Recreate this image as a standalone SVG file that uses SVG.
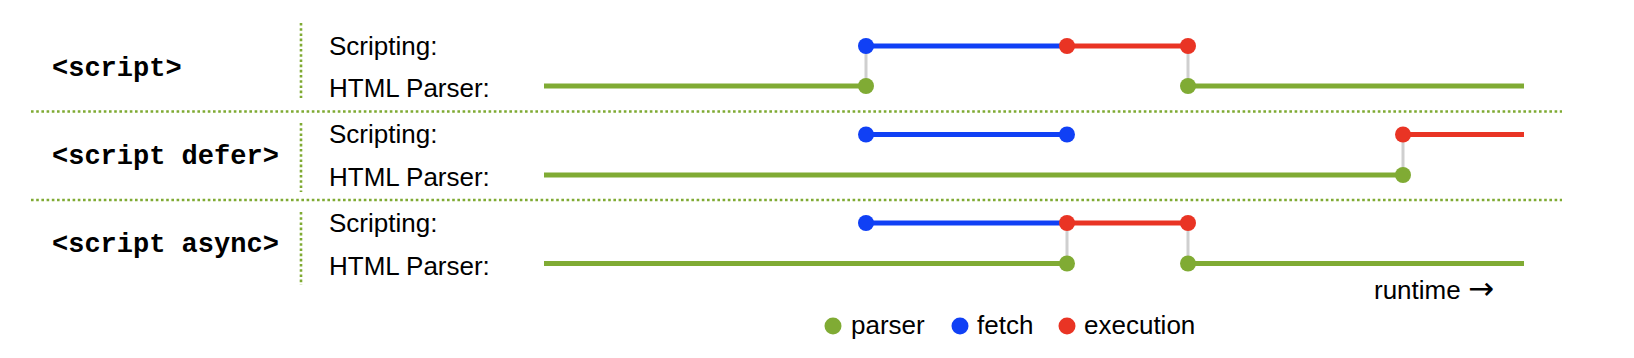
<svg xmlns="http://www.w3.org/2000/svg" width="1634" height="358" viewBox="0 0 1634 358">
<style>
.lbl{font-family:"Liberation Mono","Courier New",monospace;font-weight:bold;font-size:27px;fill:#000}
.t{font-family:"Liberation Sans",Arial,sans-serif;font-size:26px;fill:#000}
.ar{font-family:"DejaVu Sans",sans-serif;font-size:31px}
.dot{stroke:#7FAA33;stroke-width:2.6;stroke-dasharray:2.6 2.6;fill:none}
.p{stroke:#80AB34;stroke-width:5;fill:none}
.f{stroke:#1040F5;stroke-width:5;fill:none}
.e{stroke:#E93424;stroke-width:5;fill:none}
.g{stroke:#CFCFCF;stroke-width:3;fill:none}
.cp{fill:#80AB34}.cf{fill:#1040F5}.ce{fill:#E93424}
</style>
<rect width="1634" height="358" fill="#fff"/>
<g id="separators">
<line class="dot" x1="31" y1="111.5" x2="1562" y2="111.5"/>
<line class="dot" x1="31" y1="200" x2="1562" y2="200"/>
<line class="dot" x1="301" y1="23" x2="301" y2="98"/>
<line class="dot" x1="301" y1="123" x2="301" y2="192"/>
<line class="dot" x1="301" y1="212" x2="301" y2="285"/>
</g>
<g id="row-script">
<text class="lbl" x="52" y="76">&lt;script&gt;</text>
<text class="t" x="329" y="55">Scripting:</text>
<text class="t" x="329" y="97">HTML Parser:</text>
</g>
<g id="row-defer">
<text class="lbl" x="52" y="164">&lt;script defer&gt;</text>
<text class="t" x="329" y="143">Scripting:</text>
<text class="t" x="329" y="185.5">HTML Parser:</text>
</g>
<g id="row-async">
<text class="lbl" x="52" y="252">&lt;script async&gt;</text>
<text class="t" x="329" y="232">Scripting:</text>
<text class="t" x="329" y="274.5">HTML Parser:</text>
</g>
<g id="connectors">
<line class="g" x1="866" y1="46" x2="866" y2="86"/>
<line class="g" x1="1188" y1="46" x2="1188" y2="86"/>
<line class="g" x1="1403" y1="134.5" x2="1403" y2="175"/>
<line class="g" x1="1067" y1="223" x2="1067" y2="263.5"/>
<line class="g" x1="1188" y1="223" x2="1188" y2="263.5"/>
<line class="p" x1="544" y1="86" x2="866" y2="86"/>
<line class="p" x1="1188" y1="86" x2="1524" y2="86"/>
<line class="f" x1="866" y1="46" x2="1067" y2="46"/>
<line class="e" x1="1067" y1="46" x2="1188" y2="46"/>
<line class="p" x1="544" y1="175" x2="1403" y2="175"/>
<line class="f" x1="866" y1="134.5" x2="1067" y2="134.5"/>
<line class="e" x1="1403" y1="134.5" x2="1524" y2="134.5"/>
<line class="p" x1="544" y1="263.5" x2="1067" y2="263.5"/>
<line class="p" x1="1188" y1="263.5" x2="1524" y2="263.5"/>
<line class="f" x1="866" y1="223" x2="1067" y2="223"/>
<line class="e" x1="1067" y1="223" x2="1188" y2="223"/>
</g>
<g id="points">
<circle class="cf" cx="866" cy="46" r="8"/>
<circle class="ce" cx="1067" cy="46" r="8"/>
<circle class="ce" cx="1188" cy="46" r="8"/>
<circle class="cp" cx="866" cy="86" r="8"/>
<circle class="cp" cx="1188" cy="86" r="8"/>
<circle class="cf" cx="866" cy="134.5" r="8"/>
<circle class="cf" cx="1067" cy="134.5" r="8"/>
<circle class="ce" cx="1403" cy="134.5" r="8"/>
<circle class="cp" cx="1403" cy="175" r="8"/>
<circle class="cf" cx="866" cy="223" r="8"/>
<circle class="ce" cx="1067" cy="223" r="8"/>
<circle class="ce" cx="1188" cy="223" r="8"/>
<circle class="cp" cx="1067" cy="263.5" r="8"/>
<circle class="cp" cx="1188" cy="263.5" r="8"/>
</g>
<g id="axis">
<text class="t" x="1374" y="299">runtime <tspan class="ar">→</tspan></text>
</g>
<g id="legend">
<circle class="cp" cx="833" cy="326" r="8.5"/>
<text class="t" x="851" y="334">parser</text>
<circle class="cf" cx="960" cy="326" r="8.5"/>
<text class="t" x="977" y="334">fetch</text>
<circle class="ce" cx="1067" cy="326" r="8.5"/>
<text class="t" x="1084" y="334">execution</text>
</g>
</svg>
